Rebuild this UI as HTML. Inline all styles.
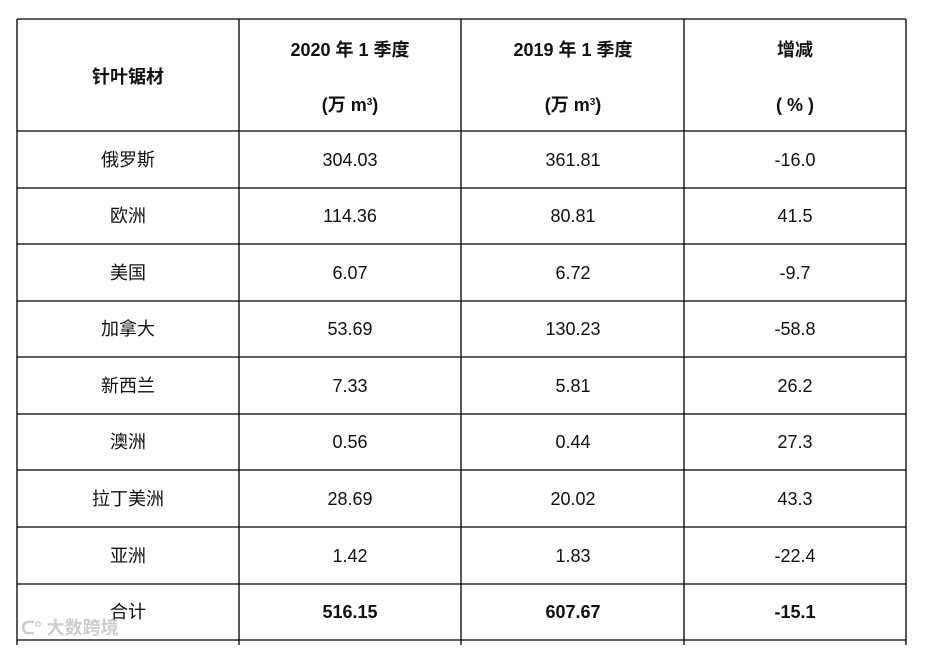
<!DOCTYPE html><html><head><meta charset="utf-8"><style>
body{margin:0;background:#fff;width:934px;height:645px;overflow:hidden}
svg text{font-family:"Liberation Sans","Noto Sans CJK SC",sans-serif;font-size:18px;fill:#111;text-anchor:middle}
</style></head><body>
<svg width="934" height="645" xmlns="http://www.w3.org/2000/svg">
<g stroke="#000" stroke-width="1.3">
<line x1="17" y1="19" x2="906" y2="19"/>
<line x1="17" y1="131" x2="906" y2="131"/>
<line x1="17" y1="188" x2="906" y2="188"/>
<line x1="17" y1="244" x2="906" y2="244"/>
<line x1="17" y1="301" x2="906" y2="301"/>
<line x1="17" y1="357" x2="906" y2="357"/>
<line x1="17" y1="414" x2="906" y2="414"/>
<line x1="17" y1="470" x2="906" y2="470"/>
<line x1="17" y1="527" x2="906" y2="527"/>
<line x1="17" y1="584" x2="906" y2="584"/>
<line x1="17" y1="640" x2="906" y2="640"/>
<line x1="17" y1="19" x2="17" y2="645"/>
<line x1="239" y1="19" x2="239" y2="645"/>
<line x1="461" y1="19" x2="461" y2="645"/>
<line x1="684" y1="19" x2="684" y2="645"/>
<line x1="906" y1="19" x2="906" y2="645"/>
</g>
<g>
<text x="128" y="83" style="font-weight:bold">针叶锯材</text>
<text x="350" y="56" style="font-weight:bold">2020 年 1 季度</text>
<text x="350" y="111" style="font-weight:bold">(万 m<tspan font-size="10" dy="-6">3</tspan><tspan dy="6">)</tspan></text>
<text x="573" y="56" style="font-weight:bold">2019 年 1 季度</text>
<text x="573" y="111" style="font-weight:bold">(万 m<tspan font-size="10" dy="-6">3</tspan><tspan dy="6">)</tspan></text>
<text x="795" y="56" style="font-weight:bold">增减</text>
<text x="795" y="111" style="font-weight:bold">( % )</text>
</g>
<g>
<text x="128" y="166">俄罗斯</text><text x="350" y="166">304.03</text><text x="573" y="166">361.81</text><text x="795" y="166">-16.0</text>
<text x="128" y="222">欧洲</text><text x="350" y="222">114.36</text><text x="573" y="222">80.81</text><text x="795" y="222">41.5</text>
<text x="128" y="279">美国</text><text x="350" y="279">6.07</text><text x="573" y="279">6.72</text><text x="795" y="279">-9.7</text>
<text x="128" y="335">加拿大</text><text x="350" y="335">53.69</text><text x="573" y="335">130.23</text><text x="795" y="335">-58.8</text>
<text x="128" y="392">新西兰</text><text x="350" y="392">7.33</text><text x="573" y="392">5.81</text><text x="795" y="392">26.2</text>
<text x="128" y="448">澳洲</text><text x="350" y="448">0.56</text><text x="573" y="448">0.44</text><text x="795" y="448">27.3</text>
<text x="128" y="505">拉丁美洲</text><text x="350" y="505">28.69</text><text x="573" y="505">20.02</text><text x="795" y="505">43.3</text>
<text x="128" y="562">亚洲</text><text x="350" y="562">1.42</text><text x="573" y="562">1.83</text><text x="795" y="562">-22.4</text>
<text x="128" y="618">合计</text>
<text x="350" y="618" style="font-weight:bold">516.15</text><text x="573" y="618" style="font-weight:bold">607.67</text><text x="795" y="618" style="font-weight:bold">-15.1</text>
</g>
<text x="70" y="634" style="font-size:18px;fill:#ccc;font-weight:bold">ᑕ° 大数跨境</text>
</svg>
</body></html>
